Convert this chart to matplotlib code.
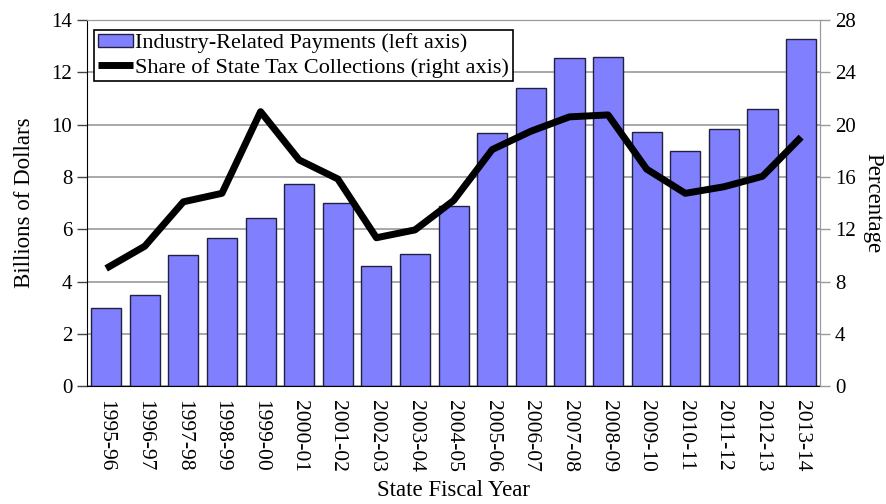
import numpy as np
import matplotlib
matplotlib.use("Agg")
import matplotlib.pyplot as plt

plt.rcParams['font.family'] = ['Liberation Serif', 'DejaVu Serif']

# chart data
years = ["1995-96", "1996-97", "1997-98", "1998-99", "1999-00", "2000-01", "2001-02",
         "2002-03", "2003-04", "2004-05", "2005-06", "2006-07", "2007-08", "2008-09",
         "2009-10", "2010-11", "2011-12", "2012-13", "2013-14"]
payments = [3.0, 3.5, 5.0, 5.66, 6.43, 7.72, 7.0, 4.6, 5.05, 6.9, 9.68, 11.4, 12.55,
            12.58, 9.72, 9.0, 9.83, 10.6, 13.27]
share = [9.0, 10.7, 14.1, 14.75, 21.0, 17.3, 15.85, 11.35, 11.95, 14.2, 18.1, 19.5,
         20.6, 20.75, 16.6, 14.75, 15.25, 16.05, 19.05]

fig = plt.figure(figsize=(8.86, 5.04), dpi=100)
ax = fig.add_axes([0.098, 0.234, 0.828, 0.726])
ax2 = ax.twinx()

x = np.arange(len(years))
bars = ax.bar(x, payments, width=0.78, color='#8080FF', edgecolor='#202040',
              linewidth=1.0, zorder=2, label='Industry-Related Payments (left axis)')
line, = ax2.plot(x, share, color='black', linewidth=5, solid_joinstyle='round',
                 solid_capstyle='butt', label='Share of State Tax Collections (right axis)')

ax.set_xlim(-0.5, len(years) - 0.5)
ax.set_ylim(0, 14)
ax.set_yticks(range(0, 15, 2))
ax2.set_ylim(0, 28)
ax2.set_yticks(range(0, 29, 4))

ax.yaxis.grid(True, color='#9a9a9a', linewidth=1.2, zorder=0)
ax.set_axisbelow(True)

ax.set_xticks(x)
ax.set_xticklabels(years, rotation=270, fontsize=15.5)
ax.tick_params(axis='x', length=0, pad=10)
ax.tick_params(axis='y', labelsize=15, length=7, width=1, color='#444444', direction='out')
ax2.tick_params(axis='y', labelsize=15, length=7, width=1, color='#9a9a9a', direction='out')

for s in ['top', 'right']:
    ax.spines[s].set_color('#9a9a9a')
ax.spines['left'].set_color('black')
ax.spines['bottom'].set_color('black')
ax2.spines['right'].set_color('#9a9a9a')
ax2.spines['top'].set_color('#9a9a9a')
ax2.spines['left'].set_visible(False)
ax2.spines['bottom'].set_visible(False)

ax.set_ylabel('Billions of Dollars', fontsize=16.5, labelpad=12)
ax2.set_ylabel('Percentage', fontsize=16.5, rotation=270, labelpad=20)
ax.set_xlabel('State Fiscal Year', fontsize=16.5, labelpad=6)

leg = ax2.legend([bars, line], [bars.get_label(), line.get_label()],
                 loc='upper left', bbox_to_anchor=(0.004, 0.985), fontsize=16,
                 frameon=True, fancybox=False, edgecolor='black', framealpha=1,
                 borderpad=0.15, labelspacing=0.2, handlelength=1.6, handleheight=0.55,
                 handletextpad=0.1, borderaxespad=0.2)
leg.get_frame().set_linewidth(1.2)

fig.savefig('out.png', dpi=100)
